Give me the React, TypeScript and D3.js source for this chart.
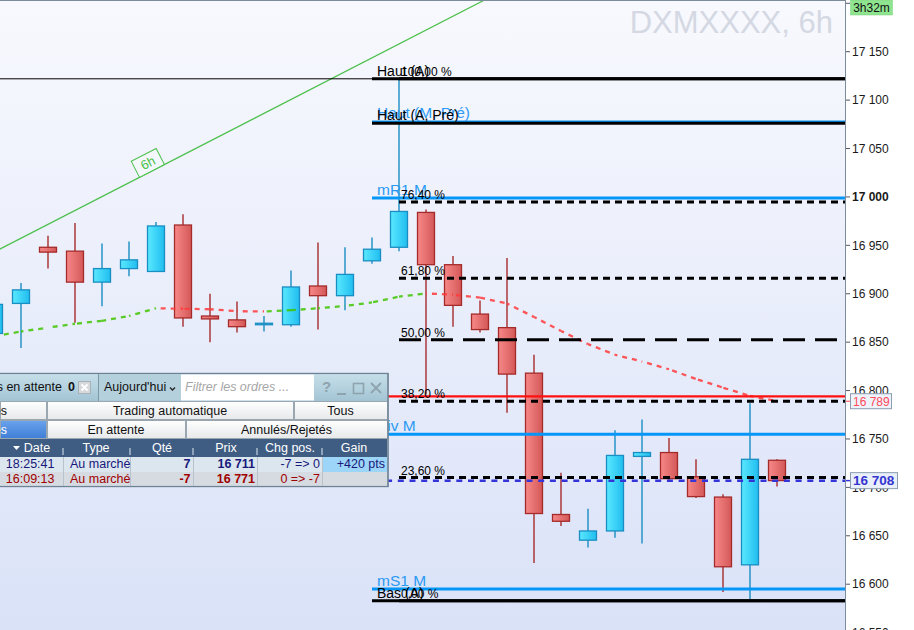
import React from "react";
import * as d3 from "d3";

const FONT = "'Liberation Sans', Arial, Helvetica, sans-serif";

// ---- Candle data (6h bars) ----
const opens = [16859, 16890, 16948, 16944, 16912, 16926, 16923, 16971, 16877, 16873, 16868, 16868, 16908, 16898, 16934, 16948, 16984, 16930, 16879, 16865, 16818, 16672, 16645.5, 16655, 16732, 16736, 16711, 16690, 16620, 16728];
const highs = [16900, 16911, 16960, 16973, 16952, 16954, 16974, 16982, 16900, 16892, 16877, 16924, 16953, 16948, 16958, 17122, 16987, 16939, 16893, 16937, 16837, 16715, 16678, 16759, 16770, 16751, 16729, 16693, 16787, 16729];
const lows = [16845, 16844, 16926, 16870, 16887, 16918, 16923, 16866, 16850, 16860, 16861, 16866, 16863, 16883, 16931, 16944, 16796, 16866, 16860, 16777, 16622, 16660, 16638, 16648, 16642, 16708, 16689, 16592, 16584, 16701];
const closes = [16889, 16904, 16943, 16912, 16926, 16935, 16970, 16875, 16874, 16866, 16869.5, 16907, 16898, 16920, 16946, 16985, 16930, 16888, 16863, 16817, 16673, 16665, 16655, 16733, 16736, 16709, 16690.5, 16618, 16729, 16707];

// moving average
const maValues = [16856, 16861, 16865, 16869, 16872, 16877, 16885, 16884.5, 16884, 16882, 16881.7, 16883, 16885, 16887.4, 16891, 16897, 16900.3, 16899, 16896, 16890, 16876, 16861.6, 16848, 16837, 16830, 16822, 16812, 16803, 16794.5, 16789];

// axis
const yTicks = [17200, 17150, 17100, 17050, 17000, 16950, 16900, 16850, 16800, 16750, 16700, 16650, 16600, 16550];
const hiddenTick = 17200;
const boldTick = 17000;

// Fibonacci retracement
const fibHigh = 17122;
const fibLow = 16583;
const fibRatios = [1, 0.764, 0.618, 0.5, 0.382, 0.236, 0];
const fibLabels = ["100,00 %", "76,40 %", "61,80 %", "50,00 %", "38,20 %", "23,60 %", "0,00 %"];

// pivots
const pivotNames = ["Haut (M, Pré)", "mR1 M", "Piv M", "mS1 M"];
const pivotValues = [17078, 16999, 16755, 16595];
const annualNames = ["Haut (A)", "Haut (A, Pré)", "Bas (A)"];
const annualValues = [17122, 17076, 16583];

const lastPrice = 16708;
const maLast = 16789;
const redLevel = 16794;

// trend line anchors (bar index, price)
const trendIdx = [0, 18];
const trendPrices = [16943, 17201];
const trendLabel = "6h";

// orders panel
const tableHeaders = ["Date", "Type", "Qté", "Prix", "Chg pos.", "Gain"];
const orderTimes = ["18:25:41", "16:09:13"];
const orderTypes = ["Au marché", "Au marché"];
const orderQty = ["7", "-7"];
const orderPrices = ["16 711", "16 771"];
const orderChg = ["-7 => 0", "0 => -7"];
const orderGain = ["+420 pts", ""];

const fmt = (v: number) => {
  const s = String(Math.round(v));
  return s.slice(0, s.length - 3) + " " + s.slice(s.length - 3);
};

export default function App() {
  const AX = 845;
  const x = d3.scaleLinear().domain([0, 29]).range([-6, 777]);
  const y = d3.scaleLinear().domain([16600, 17150]).range([584.2, 51.7]);
  const bw = 17;
  const blueTxt = "#2b9af3";
  const pivBlue = "#0596f7";

  // MA segments
  const maSegs: any[] = [];
  let acc = 0;
  for (let i = 0; i < maValues.length - 1; i++) {
    const x1 = x(i), y1 = y(maValues[i]), x2 = x(i + 1), y2 = y(maValues[i + 1]);
    const len = Math.hypot(x2 - x1, y2 - y1);
    const col = maValues[i + 1] >= maValues[i] ? "#3fc400" : "#ff3a3a";
    maSegs.push(
      <line key={"ma" + i} x1={x1} y1={y1} x2={x2} y2={y2} stroke={col} strokeWidth={2.3}
        strokeDasharray="5 5" strokeDashoffset={-acc} strokeOpacity={0.85} />
    );
    acc += len;
  }

  // trend line
  const slope = (trendPrices[1] - trendPrices[0]) / (trendIdx[1] - trendIdx[0]);
  const tp = (i: number) => trendPrices[0] + slope * (i - trendIdx[0]);
  const trendPath = d3.line<number>().x((i) => x(i)).y((i) => y(tp(i)))([-1, 20]) || "";
  const lblI = 5.85;
  const ang = (Math.atan2(y(tp(1)) - y(tp(0)), x(1) - x(0)) * 180) / Math.PI;

  const yFib = (r: number) => y(fibLow + r * (fibHigh - fibLow));

  // panel columns
  const colEdges = [0, 63, 130, 193, 257, 322, 387];
  const headerCenters = [32, 96, 162, 226, 290, 354];

  return (
    <svg width={914} height={630} style={{ position: "fixed", left: 0, top: 0, display: "block" }} fontFamily={FONT}>
      <defs>
        <linearGradient id="bg" x1="0" y1="0" x2="0" y2="1">
          <stop offset="0" stopColor="#f8f9fe" />
          <stop offset="1" stopColor="#dae2f8" />
        </linearGradient>
        <linearGradient id="up" x1="0" y1="0" x2="1" y2="0">
          <stop offset="0" stopColor="#5ae9ff" />
          <stop offset="1" stopColor="#20bdef" />
        </linearGradient>
        <linearGradient id="dn" x1="0" y1="0" x2="1" y2="0">
          <stop offset="0" stopColor="#f78888" />
          <stop offset="1" stopColor="#d45858" />
        </linearGradient>
        <linearGradient id="tb" x1="0" y1="0" x2="0" y2="1">
          <stop offset="0" stopColor="#c6dfe9" />
          <stop offset="1" stopColor="#a3c4d4" />
        </linearGradient>
        <linearGradient id="btn" x1="0" y1="0" x2="0" y2="1">
          <stop offset="0" stopColor="#ffffff" />
          <stop offset="1" stopColor="#e6e8ea" />
        </linearGradient>
        <linearGradient id="sel" x1="0" y1="0" x2="0" y2="1">
          <stop offset="0" stopColor="#6aa2ec" />
          <stop offset="1" stopColor="#3f7fd6" />
        </linearGradient>
        <clipPath id="plot">
          <rect x={0} y={0} width={AX} height={630} />
        </clipPath>
      </defs>

      {/* plot background */}
      <rect x={0} y={0} width={AX} height={630} fill="url(#bg)" />
      <rect x={AX} y={0} width={914 - AX} height={630} fill="#ffffff" />

      {/* title */}
      <text x={833} y={33} textAnchor="end" fontSize={31} fill="#d4d8e3">DXMXXXX, 6h</text>

      <g clipPath="url(#plot)">
        {/* trend line */}
        <path d={trendPath} stroke="#4cc04c" strokeWidth={1.2} fill="none" />
        <g transform={`translate(${x(lblI)},${y(tp(lblI))}) rotate(${ang})`}>
          <rect x={-14} y={-18} width={28} height={18} fill="#f4f7fd" stroke="#4cc04c" strokeWidth={1} />
          <text x={0} y={-4.5} textAnchor="middle" fontSize={13} fill="#4cc04c">{trendLabel}</text>
        </g>

        {/* thin horizontal line */}
        <line x1={0} x2={372} y1={y(annualValues[0])} y2={y(annualValues[0])} stroke="#000" strokeWidth={1} />

        {/* candles */}
        {opens.map((o, i) => {
          const c = closes[i];
          const up = c >= o;
          const stroke = up ? "#1a8dc2" : "#a52b2b";
          const top = y(Math.max(o, c));
          const h = Math.max(1.4, Math.abs(y(o) - y(c)));
          return (
            <g key={"c" + i}>
              <line x1={x(i)} x2={x(i)} y1={y(highs[i])} y2={y(lows[i])} stroke={stroke} strokeWidth={1.4} />
              <rect x={x(i) - bw / 2} y={top} width={bw} height={h} fill={up ? "url(#up)" : "url(#dn)"} stroke={stroke} strokeWidth={1.3} />
            </g>
          );
        })}

        {/* moving average */}
        {maSegs}

        {/* red level */}
        <line x1={0} x2={AX} y1={y(redLevel)} y2={y(redLevel)} stroke="#ff1010" strokeWidth={2.2} />

        {/* pivot lines */}
        {pivotValues.map((v, i) => (
          <line key={"pv" + i} x1={372} x2={AX} y1={y(v)} y2={y(v)} stroke={pivBlue} strokeWidth={i === 0 ? 2 : 3} />
        ))}
        {/* annual lines */}
        {annualValues.map((v, i) => (
          <line key={"an" + i} x1={372} x2={AX} y1={y(v)} y2={y(v)} stroke="#000" strokeWidth={3} />
        ))}

        {/* fib lines */}
        {fibRatios.map((r, i) =>
          r === 1 || r === 0 ? (
            <line key={"fb" + i} x1={399} x2={AX} y1={yFib(r)} y2={yFib(r)} stroke="#000" strokeWidth={3} />
          ) : (
            <line key={"fb" + i} x1={399} x2={AX} y1={yFib(r)} y2={yFib(r)} stroke="#000" strokeWidth={3}
              strokeDasharray={r === 0.5 ? "22 10" : "7 5"} />
          )
        )}

        {/* last price dashed line */}
        <line x1={0} x2={AX} y1={y(lastPrice) + 1} y2={y(lastPrice) + 1} stroke="#3434d8" strokeWidth={2.5} strokeDasharray="6 5.7" />

        {/* labels */}
        {pivotNames.map((n, i) => (
          <text key={"pl" + i} x={377} y={y(pivotValues[i]) - 3} fontSize={15.5} fill={blueTxt}>{n}</text>
        ))}
        {annualNames.map((n, i) => (
          <text key={"al" + i} x={377} y={y(annualValues[i]) - 3} fontSize={14} fill="#000">{n}</text>
        ))}
        {fibLabels.map((l, i) => (
          <text key={"fl" + i} x={401} y={yFib(fibRatios[i]) - 3} fontSize={12} fill="#000">{l}</text>
        ))}
      </g>

      {/* plot border */}
      <line x1={0} x2={AX} y1={0.5} y2={0.5} stroke="#7d8c9a" strokeWidth={1} />
      <line x1={AX + 0.5} x2={AX + 0.5} y1={0} y2={630} stroke="#7d8c9a" strokeWidth={1} />

      {/* axis ticks */}
      {yTicks.map((t) => (
        <g key={"t" + t}>
          <line x1={AX + 1} x2={AX + 5} y1={y(t)} y2={y(t)} stroke="#556" strokeWidth={1} />
          {t !== hiddenTick && (
            <text x={852} y={y(t)} dy="0.35em" fontSize={12} fill="#1a1a1a" fontWeight={t === boldTick ? "bold" : "normal"}>{fmt(t)}</text>
          )}
        </g>
      ))}

      {/* 3h32m box */}
      <rect x={850.5} y={0} width={42} height={15} fill="#8fe58f" stroke="#7bcf7b" strokeWidth={0.5} />
      <text x={871.5} y={11.5} textAnchor="middle" fontSize={12} fill="#111">3h32m</text>

      {/* MA value label */}
      <line x1={AX + 1} x2={851} y1={y(maLast)} y2={y(maLast)} stroke="#ff4a4a" strokeWidth={1} />
      <rect x={850.5} y={y(maLast) - 7.5} width={41} height={15} fill="#eef2fb" stroke="#8c9db0" strokeWidth={1} />
      <text x={853} y={y(maLast)} dy="0.36em" fontSize={12} fill="#ff4a5a">{fmt(maLast)}</text>

      {/* last price label */}
      <line x1={AX + 1} x2={851} y1={y(lastPrice) + 1} y2={y(lastPrice) + 1} stroke="#3434d8" strokeWidth={1.5} />
      <rect x={850.5} y={y(lastPrice) - 7} width={47} height={16} fill="#e8eefa" stroke="#8c9db0" strokeWidth={1} />
      <text x={853} y={y(lastPrice) + 1} dy="0.36em" fontSize={13.5} fontWeight="bold" fill="#3434d0">{fmt(lastPrice)}</text>

      {/* ---- orders panel ---- */}
      <g fontSize={12.5}>
        <rect x={-1} y={373.5} width={389} height={113} fill="#dde5ec" stroke="#6d8294" strokeWidth={1.2} />
        {/* toolbar */}
        <rect x={0} y={374} width={387} height={27} fill="url(#tb)" />
        <text x={62} y={390.5} textAnchor="end" fill="#111">Ordres en attente</text>
        <text x={68} y={390.5} fontWeight="bold" fill="#111">0</text>
        <rect x={78.5} y={381.5} width={12} height={12} fill="#d6d9dc" stroke="#a8b0b8" />
        <path d="M81.5,384.5 L87.5,390.5 M87.5,384.5 L81.5,390.5" stroke="#fff" strokeWidth={1.8} />
        <line x1={98.5} x2={98.5} y1={374} y2={401} stroke="#7f98a8" />
        <rect x={99} y={374.5} width={82} height={26} fill="#b4d0dd" />
        <text x={104} y={390.5} fill="#111">Aujourd'hui</text>
        <path d="M170,387.5 L172.5,390 L175,387.5" stroke="#222" strokeWidth={1.3} fill="none" />
        <rect x={181} y={374.5} width={133} height={26} fill="#ffffff" />
        <text x={185} y={391} fontStyle="italic" fill="#a6a6a6">Filtrer les ordres ...</text>
        <text x={322} y={392} fontSize={15} fontWeight="bold" fill="#8ea3ae">?</text>
        <line x1={337} x2={346} y1={394} y2={394} stroke="#8ea3ae" strokeWidth={2} />
        <rect x={353.5} y={383.5} width={10} height={10} fill="none" stroke="#8ea3ae" strokeWidth={1.6} />
        <path d="M371,383 L381,393 M381,383 L371,393" stroke="#8ea3ae" strokeWidth={1.8} />

        {/* tab row 1 */}
        {[[0, 46, "Ordres"], [47, 293, "Trading automatique"], [294, 387, "Tous"]].map((c, i) => (
          <g key={"r1" + i}>
            <rect x={(c[0] as number) + 0.5} y={401.5} width={(c[1] as number) - (c[0] as number)} height={18} fill="url(#btn)" stroke="#9aa6b0" />
            <text x={i === 0 ? 7 : ((c[0] as number) + (c[1] as number)) / 2} y={415} textAnchor={i === 0 ? "end" : "middle"} fill="#111">{c[2]}</text>
          </g>
        ))}
        {/* tab row 2 */}
        {[[0, 46, "Exécutés"], [47, 185, "En attente"], [186, 387, "Annulés/Rejetés"]].map((c, i) => (
          <g key={"r2" + i}>
            <rect x={(c[0] as number) + 0.5} y={420.5} width={(c[1] as number) - (c[0] as number)} height={18} fill={i === 0 ? "url(#sel)" : "url(#btn)"} stroke="#9aa6b0" />
            <text x={i === 0 ? 7 : ((c[0] as number) + (c[1] as number)) / 2} y={434} textAnchor={i === 0 ? "end" : "middle"} fill={i === 0 ? "#fff" : "#111"}>{c[2]}</text>
          </g>
        ))}
        {/* table header */}
        <rect x={0} y={439} width={387} height={18} fill="#3f5d83" />
        <path d="M13,446 L20,446 L16.5,450 Z" fill="#fff" />
        {tableHeaders.map((h, i) => (
          <text key={"h" + i} x={i === 0 ? 37 : headerCenters[i]} y={451.5} textAnchor="middle" fill="#fff">{h}</text>
        ))}
        {colEdges.slice(1, 6).map((cx, i) => (
          <line key={"hs" + i} x1={cx} x2={cx} y1={448} y2={455} stroke="#dfe7f0" strokeWidth={1} />
        ))}
        {/* rows */}
        {orderTimes.map((t, r) => {
          const top = 457 + r * 15;
          const col = r === 0 ? "#18187a" : "#a00000";
          const base = top + 11;
          return (
            <g key={"row" + r}>
              <rect x={0} y={top} width={387} height={r === 0 ? 15 : 14} fill={r === 0 ? "#dce6ef" : "#d6dbe1"} />
              {r === 0 && <rect x={323} y={top} width={64} height={15} fill="#9dd5f9" />}
              {colEdges.slice(1, 6).map((cx, i) => (
                <line key={"cs" + i} x1={cx + 0.5} x2={cx + 0.5} y1={top} y2={top + 15} stroke="#b7c2cc" />
              ))}
              <text x={54.5} y={base} textAnchor="end" fill={col}>{t}</text>
              <text x={70} y={base} fill={col}>{orderTypes[r]}</text>
              <text x={190.5} y={base} textAnchor="end" fontWeight="bold" fill={col}>{orderQty[r]}</text>
              <text x={255} y={base} textAnchor="end" fontWeight="bold" fill={col}>{orderPrices[r]}</text>
              <text x={320} y={base} textAnchor="end" fill={col}>{orderChg[r]}</text>
              <text x={385} y={base} textAnchor="end" fill={col}>{orderGain[r]}</text>
            </g>
          );
        })}
        <rect x={-1} y={373.5} width={389} height={113} fill="none" stroke="#6d8294" strokeWidth={1.2} />
      </g>
    </svg>
  );
}
